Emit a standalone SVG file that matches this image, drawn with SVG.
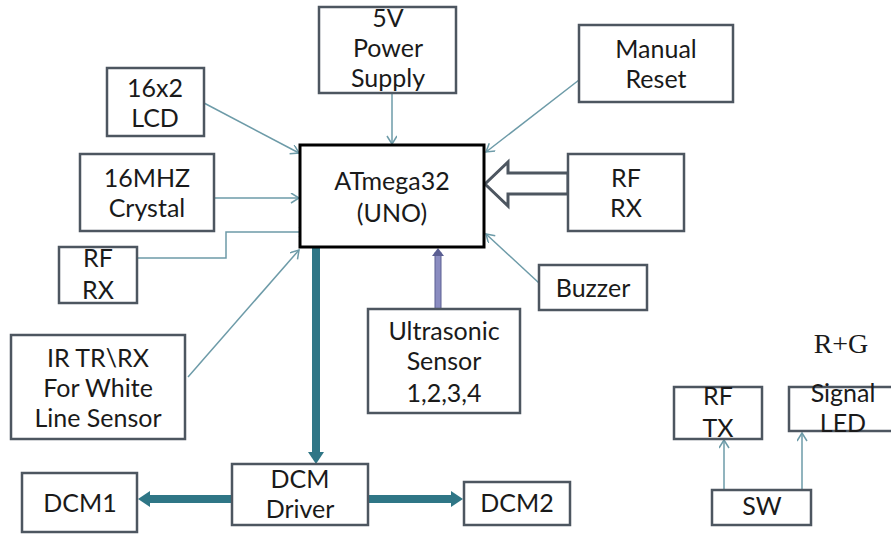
<svg xmlns="http://www.w3.org/2000/svg" width="891" height="535" viewBox="0 0 891 535">
<defs>
<style>
.box{fill:#ffffff;stroke:#4d5660;stroke-width:2.5}
.main{fill:#ffffff;stroke:#000000;stroke-width:3}
.t{font-family:Lato,"Liberation Sans",sans-serif;font-size:25px;fill:#1a1a1a;text-anchor:middle}
.thin{fill:none;stroke:#6d9ba8;stroke-width:1.5;marker-end:url(#open)}
.thick{fill:none;stroke:#2f7686;stroke-width:8}
</style>
<marker id="open" markerUnits="userSpaceOnUse" markerWidth="12" markerHeight="12" refX="9" refY="5" orient="auto">
<path d="M1,0 L9,5 L1,10" fill="none" stroke="#6d9ba8" stroke-width="1.5"/>
</marker>
</defs>
<rect width="891" height="535" fill="#ffffff"/>

<g id="connectors">
<line class="thin" x1="204" y1="103" x2="299" y2="153"/>
<line class="thin" x1="214" y1="198" x2="299" y2="198"/>
<polyline class="thin" points="137,258 226,258 226,232 307,232"/>
<line class="thin" x1="188" y1="377" x2="299" y2="250"/>
<line class="thin" x1="392" y1="93" x2="392" y2="144"/>
<line class="thin" x1="579" y1="80" x2="486" y2="152"/>
<line class="thin" x1="539" y1="283" x2="486" y2="234"/>
<line class="thin" x1="724" y1="490" x2="724" y2="440"/>
<line class="thin" x1="802" y1="490" x2="802" y2="433"/>
<polygon points="568,173 508,173 508,162 485,184 508,206 508,194 568,194" fill="#ffffff" stroke="#4d5660" stroke-width="3" stroke-linejoin="miter"/>
<rect x="435" y="253" width="6" height="56" fill="#8a8cc0" stroke="#5a5e92" stroke-width="1"/>
<polygon points="432,256 438,248 444,256" fill="#5a5e92"/>
<line class="thick" x1="316" y1="248" x2="316" y2="454"/>
<polygon points="308,452 324,452 316,464" fill="#2f7686"/>
<line class="thick" x1="232" y1="499" x2="149" y2="499"/>
<polygon points="150,491 150,507 138,499" fill="#2f7686"/>
<line class="thick" x1="368" y1="499" x2="452" y2="499"/>
<polygon points="451,491 451,507 463,499" fill="#2f7686"/>
</g>

<g id="lcd"><rect class="box" x="107" y="68" width="97" height="68"/><text class="t" x="155" y="97">16x2</text><text class="t" x="155" y="127">LCD</text></g>
<g id="crystal"><rect class="box" x="80" y="154" width="134" height="77"/><text class="t" x="147" y="187">16MHZ</text><text class="t" x="147" y="217">Crystal</text></g>
<g id="rfrx-left"><rect class="box" x="59" y="247" width="78" height="56"/><text class="t" x="98" y="267">RF</text><text class="t" x="98" y="299">RX</text></g>
<g id="ir"><rect class="box" x="11" y="335" width="174" height="104"/><text class="t" x="98" y="367">IR TR\RX</text><text class="t" x="98" y="397">For White</text><text class="t" x="98" y="427">Line Sensor</text></g>
<g id="dcm1"><rect class="box" x="22" y="473" width="115" height="59"/><text class="t" x="80" y="512">DCM1</text></g>
<g id="power"><rect class="box" x="319" y="7" width="137" height="86"/><text class="t" x="388" y="27">5V</text><text class="t" x="388" y="57">Power</text><text class="t" x="388" y="87">Supply</text></g>
<g id="atmega"><rect class="main" x="300" y="145" width="184" height="102"/><text class="t" x="392" y="190">ATmega32</text><text class="t" x="392" y="222">(UNO)</text></g>
<g id="reset"><rect class="box" x="579" y="25" width="154" height="77"/><text class="t" x="656" y="58">Manual</text><text class="t" x="656" y="88">Reset</text></g>
<g id="rfrx-right"><rect class="box" x="568" y="154" width="116" height="77"/><text class="t" x="626" y="187">RF</text><text class="t" x="626" y="217">RX</text></g>
<g id="buzzer"><rect class="box" x="539" y="265" width="108" height="45"/><text class="t" x="593" y="297">Buzzer</text></g>
<g id="ultrasonic"><rect class="box" x="368" y="309" width="152" height="104"/><text class="t" x="444" y="340">Ultrasonic</text><text class="t" x="444" y="370">Sensor</text><text class="t" x="444" y="402">1,2,3,4</text></g>
<g id="driver"><rect class="box" x="232" y="464" width="136" height="61"/><text class="t" x="300" y="488">DCM</text><text class="t" x="300" y="518">Driver</text></g>
<g id="dcm2"><rect class="box" x="464" y="482" width="106" height="43"/><text class="t" x="517" y="512">DCM2</text></g>
<g id="rftx"><rect class="box" x="674" y="387" width="88" height="52"/><text class="t" x="718" y="405">RF</text><text class="t" x="718" y="437">TX</text></g>
<g id="led"><rect class="box" x="789" y="387" width="110" height="44"/><text class="t" x="843" y="402">Signal</text><text class="t" x="843" y="432">LED</text></g>
<g id="sw"><rect class="box" x="712" y="490" width="99" height="35"/><text class="t" x="762" y="515">SW</text></g>
<text x="841" y="353" font-family="'Liberation Serif',serif" font-size="28" fill="#1a1a1a" text-anchor="middle">R+G</text>
</svg>
